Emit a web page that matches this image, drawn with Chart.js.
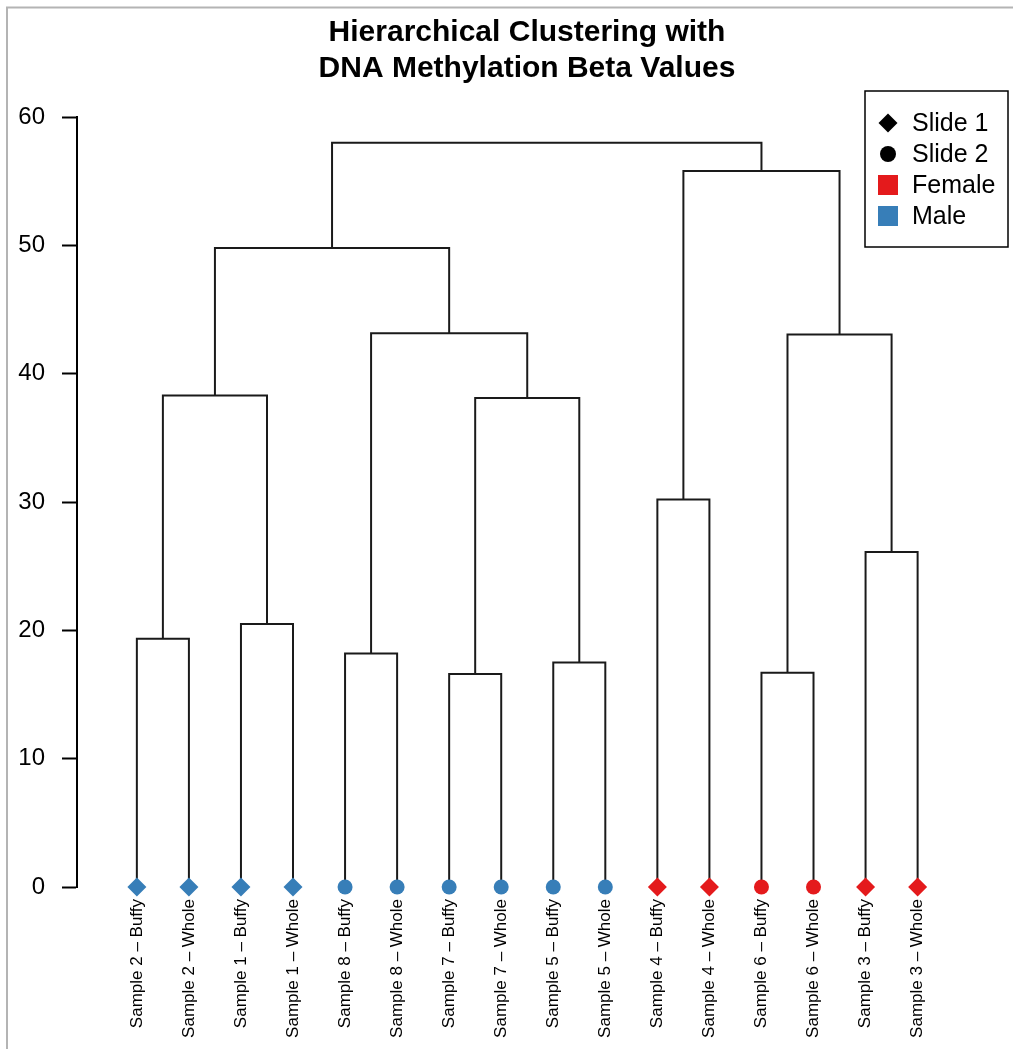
<!DOCTYPE html>
<html>
<head>
<meta charset="utf-8">
<title>Hierarchical Clustering</title>
<script src="https://cdn.jsdelivr.net/npm/chart.js@4.4.1/dist/chart.umd.min.js"></script>
<style>
  html, body { margin: 0; padding: 0; background: #fff; overflow: hidden; }
  #chart { display: block; }
</style>
</head>
<body>
<canvas id="chart" width="1013" height="1049"></canvas>
<script>
// ===== DATA =====
const leafLabels = [
  'Sample 2 – Buffy', 'Sample 2 – Whole', 'Sample 1 – Buffy', 'Sample 1 – Whole',
  'Sample 8 – Buffy', 'Sample 8 – Whole', 'Sample 7 – Buffy', 'Sample 7 – Whole',
  'Sample 5 – Buffy', 'Sample 5 – Whole', 'Sample 4 – Buffy', 'Sample 4 – Whole',
  'Sample 6 – Buffy', 'Sample 6 – Whole', 'Sample 3 – Buffy', 'Sample 3 – Whole'
];
const leafSex = ['Male', 'Male', 'Male', 'Male', 'Male', 'Male', 'Male', 'Male',
  'Male', 'Male', 'Female', 'Female', 'Female', 'Female', 'Female', 'Female'];
const leafSlide = [1, 1, 1, 1, 2, 2, 2, 2, 2, 2, 1, 1, 2, 2, 1, 1];

// merges like R's hclust: negative = leaf number, positive = earlier merge (1-based)
const mergeLeft = [-1, -3, -5, -7, -9, -11, -13, -15, 1, 4, 3, 9, 7, 6, 12];
const mergeRight = [-2, -4, -6, -8, -10, -12, -14, -16, 2, 5, 10, 11, 8, 13, 14];
const mergeHeight = [19.35, 20.5, 18.2, 16.6, 17.5, 30.2, 16.7, 26.1,
  38.3, 38.1, 43.15, 49.8, 43.05, 55.8, 58.0];

const yTicks = [0, 10, 20, 30, 40, 50, 60];
const titleLines = ['Hierarchical Clustering with', 'DNA Methylation Beta Values'];
const legendLabels = ['Slide 1', 'Slide 2', 'Female', 'Male'];

const sexColors = { Female: '#E41A1C', Male: '#377EB8' };
const slideShapes = { 1: 'rectRot', 2: 'circle' };
const lineColor = '#1a1a1a';
const fontFamily = '"Liberation Sans", Arial, Helvetica, sans-serif';

// ===== DENDROGRAM BRANCHES =====
const mergeX = [];
function nodeX(id) { return id < 0 ? -id : mergeX[id - 1]; }
function nodeY(id) { return id < 0 ? 0 : mergeHeight[id - 1]; }

const branchDatasets = mergeHeight.map((h, i) => {
  const l = mergeLeft[i];
  const r = mergeRight[i];
  mergeX[i] = (nodeX(l) + nodeX(r)) / 2;
  return {
    data: [
      { x: nodeX(l), y: nodeY(l) },
      { x: nodeX(l), y: h },
      { x: nodeX(r), y: h },
      { x: nodeX(r), y: nodeY(r) }
    ],
    showLine: true,
    borderColor: lineColor,
    borderWidth: 2,
    borderJoinStyle: 'miter',
    borderCapStyle: 'butt',
    pointRadius: 0,
    tension: 0,
    fill: false,
    order: 1
  };
});

const leafDataset = {
  data: leafLabels.map((_, i) => ({ x: i + 1, y: 0 })),
  showLine: false,
  pointStyle: leafSlide.map(s => slideShapes[s]),
  pointRadius: leafSlide.map(s => (s === 1 ? 9.5 : 7.5)),
  pointBackgroundColor: leafSex.map(s => sexColors[s]),
  pointBorderColor: leafSex.map(s => sexColors[s]),
  pointBorderWidth: 0,
  clip: false,
  order: 0
};

// ===== PLUGINS =====
// white page with the grey frame on the left and top
const pagePlugin = {
  id: 'page',
  beforeDraw(chart) {
    const ctx = chart.ctx;
    ctx.save();
    ctx.fillStyle = '#fff';
    ctx.fillRect(0, 0, chart.width, chart.height);
    ctx.strokeStyle = '#b4b4b4';
    ctx.lineWidth = 2;
    ctx.beginPath();
    ctx.moveTo(7, chart.height);
    ctx.lineTo(7, 7.5);
    ctx.lineTo(chart.width, 7.5);
    ctx.stroke();
    ctx.restore();
  }
};

const titlePlugin = {
  id: 'rTitle',
  afterDraw(chart) {
    const ctx = chart.ctx;
    ctx.save();
    ctx.fillStyle = '#000';
    ctx.font = 'bold 30px ' + fontFamily;
    ctx.textAlign = 'center';
    ctx.textBaseline = 'alphabetic';
    titleLines.forEach((t, i) => ctx.fillText(t, 527, 41 + i * 36));
    ctx.restore();
  }
};

// legend box in the top right corner
const legendPlugin = {
  id: 'rLegend',
  afterDraw(chart) {
    const ctx = chart.ctx;
    const right = chart.width - 5;
    const w = 143, h = 156;
    const left = right - w, top = 91;
    ctx.save();
    ctx.strokeStyle = '#000';
    ctx.lineWidth = 1.5;
    ctx.strokeRect(left, top, w, h);

    const symX = left + 23;
    ctx.font = '25px ' + fontFamily;
    ctx.textAlign = 'left';
    ctx.textBaseline = 'middle';
    legendLabels.forEach((label, i) => {
      const cy = top + 32 + i * 31;
      if (i === 0) {
        ctx.fillStyle = '#000';
        ctx.beginPath();
        ctx.moveTo(symX, cy - 9.5);
        ctx.lineTo(symX + 9.5, cy);
        ctx.lineTo(symX, cy + 9.5);
        ctx.lineTo(symX - 9.5, cy);
        ctx.closePath();
        ctx.fill();
      } else if (i === 1) {
        ctx.fillStyle = '#000';
        ctx.beginPath();
        ctx.arc(symX, cy, 8, 0, Math.PI * 2);
        ctx.fill();
      } else {
        ctx.fillStyle = sexColors[label];
        ctx.fillRect(symX - 10, cy - 10, 20, 20);
      }
      ctx.fillStyle = '#000';
      ctx.fillText(label, left + 47, cy + 1);
    });
    ctx.restore();
  }
};

// ===== CHART =====
const ctx = document.getElementById('chart').getContext('2d');
new Chart(ctx, {
  type: 'scatter',
  data: { datasets: [leafDataset, ...branchDatasets] },
  plugins: [pagePlugin, titlePlugin, legendPlugin],
  options: {
    responsive: false,
    animation: false,
    events: [],
    layout: { padding: { top: 117, right: 5, bottom: 0, left: 0 } },
    plugins: {
      legend: { display: false },
      tooltip: { enabled: false },
      title: { display: false }
    },
    scales: {
      x: {
        type: 'linear',
        min: -0.15,
        max: 17.65,
        afterFit: (scale) => { scale.height = 162; },
        afterBuildTicks: (scale) => {
          scale.ticks = leafLabels.map((_, i) => ({ value: i + 1 }));
        },
        grid: { display: false },
        border: { display: false },
        ticks: {
          autoSkip: false,
          minRotation: 90,
          maxRotation: 90,
          padding: 4,
          color: '#000',
          font: { family: fontFamily, size: 17 },
          callback: (value) => leafLabels[value - 1]
        }
      },
      y: {
        type: 'linear',
        min: 0,
        max: 60,
        afterFit: (scale) => { scale.width = 77; },
        afterBuildTicks: (scale) => {
          scale.ticks = yTicks.map(v => ({ value: v }));
        },
        grid: {
          drawOnChartArea: false,
          drawTicks: true,
          tickLength: 15,
          tickColor: '#000',
          tickWidth: 2
        },
        border: { display: true, color: '#000', width: 2 },
        ticks: {
          padding: 17,
          color: '#000',
          font: { family: fontFamily, size: 24 }
        }
      }
    }
  }
});
</script>
</body>
</html>
